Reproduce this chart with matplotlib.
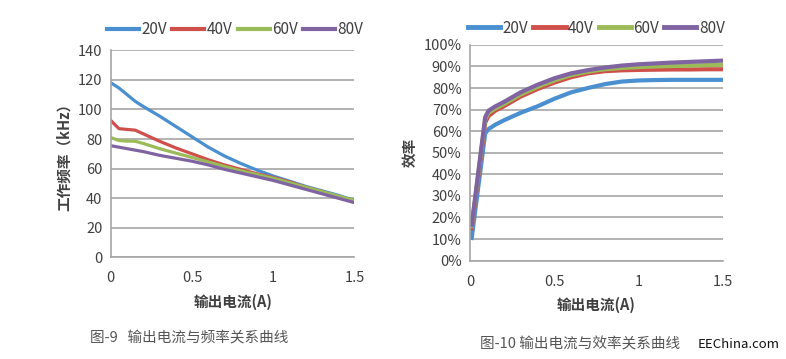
import matplotlib
matplotlib.use("Agg")
import matplotlib.pyplot as plt

plt.rcParams['font.family'] = ['Noto Sans CJK SC', 'DejaVu Sans']

# 输出电流与频率
cur_f = [0, 0.05, 0.1, 0.15, 0.2, 0.3, 0.4, 0.5, 0.6, 0.7, 0.8, 0.9, 1.0, 1.1, 1.2, 1.3, 1.4, 1.5]
f20 = [118, 114.5, 110, 105.5, 102, 95.5, 88.5, 81.5, 74.5, 68.5, 63.5, 59, 55, 51.5, 48, 45, 42, 38.5]
f40 = [92.5, 87, 86.5, 86, 83.5, 78.5, 74, 70, 66, 62.5, 59.5, 56.5, 54, 51, 47.5, 44.5, 41, 38]
f60 = [81, 79, 78.6, 78.5, 77, 73.5, 70.5, 67.5, 64.5, 61.5, 58.5, 56, 53.5, 50.5, 47.5, 44.5, 41.5, 38.5]
f80 = [75.5, 74.5, 73.5, 72.5, 71.5, 69, 67, 65, 62.5, 59.5, 57, 54.5, 52, 49, 46, 43, 40, 37]

# 输出电流与效率
cur_e = [0.01, 0.09, 0.11, 0.15, 0.2, 0.3, 0.4, 0.5, 0.6, 0.7, 0.8, 0.9, 1.0, 1.1, 1.2, 1.3, 1.4, 1.5]
e20 = [10.5, 59, 61, 63, 65, 68.5, 71.5, 75, 78, 80, 81.8, 83, 83.5, 83.7, 83.8, 83.8, 83.8, 83.8]
e40 = [15, 64, 67, 69.5, 71.5, 76, 79.5, 82.5, 85, 86.8, 87.8, 88.2, 88.4, 88.5, 88.6, 88.6, 88.7, 88.7]
e60 = [16, 65.5, 68.5, 70.5, 72.5, 77, 80.5, 83.5, 86, 87.6, 88.7, 89.3, 89.7, 90, 90.2, 90.4, 90.6, 90.8]
e80 = [16.5, 66.5, 69.5, 71.5, 73.5, 78, 81.5, 84.5, 86.8, 88.3, 89.5, 90.4, 91, 91.4, 91.8, 92.1, 92.4, 92.7]

labels = ['20V', '40V', '60V', '80V']
colors = ['#4a8fd0', '#cf4f4a', '#9bbb59', '#8064a2']
grid_c = '#a6a6a6'
txt_c = '#404040'

fig = plt.figure(figsize=(7.86, 3.59), dpi=100)

def style(ax):
    for s in ['top', 'right']:
        ax.spines[s].set_visible(False)
    ax.spines['left'].set_color(grid_c)
    ax.spines['bottom'].set_color(grid_c)
    ax.spines['left'].set_linewidth(1.2)
    ax.spines['bottom'].set_linewidth(1.2)
    ax.yaxis.grid(True, color=grid_c, linewidth=1.2)
    ax.set_axisbelow(True)
    ax.tick_params(length=0, labelsize=10.5, colors=txt_c, pad=6)
    ax.tick_params(axis='x', pad=10)

ax1 = fig.add_axes([0.141, 0.283, 0.310, 0.577])
for y, lab, c in zip([f20, f40, f60, f80], labels, colors):
    ax1.plot(cur_f, y, color=c, lw=2.3, label=lab)
ax1.set_xlim(0, 1.5)
ax1.set_ylim(0, 140)
ax1.set_xticks([0, 0.5, 1, 1.5])
ax1.set_xticklabels(['0', '0.5', '1', '1.5'])
ax1.set_yticks(range(0, 141, 20))
style(ax1)
ax1.set_xlabel('输出电流(A)', fontsize=10.5, color=txt_c, fontweight='bold', labelpad=6)
ax1.set_ylabel('工作频率（kHz）', fontsize=10.5, color=txt_c, fontweight='bold', labelpad=4)
leg1 = ax1.legend(loc='lower center', bbox_to_anchor=(0.51, 1.03), ncol=4, frameon=False,
                  fontsize=11, handlelength=2.1, handletextpad=0.15, columnspacing=0.35,
                  borderaxespad=0, labelcolor=txt_c)
for h in leg1.get_lines():
    h.set_linewidth(3)

ax2 = fig.add_axes([0.598, 0.274, 0.3215, 0.601])
for y, lab, c in zip([e20, e40, e60, e80], labels, colors):
    ax2.plot(cur_e, y, color=c, lw=3.0, label=lab)
ax2.set_xlim(0, 1.5)
ax2.set_ylim(0, 100)
ax2.set_xticks([0, 0.5, 1, 1.5])
ax2.set_xticklabels(['0', '0.5', '1', '1.5'])
ax2.set_yticks(range(0, 101, 10))
ax2.set_yticklabels([f'{v}%' for v in range(0, 101, 10)])
style(ax2)
ax2.set_xlabel('输出电流(A)', fontsize=10.5, color=txt_c, fontweight='bold', labelpad=6)
ax2.set_ylabel('效率', fontsize=10.5, color=txt_c, fontweight='bold', labelpad=4)
leg2 = ax2.legend(loc='lower center', bbox_to_anchor=(0.5, 1.01), ncol=4, frameon=False,
                  fontsize=11, handlelength=2.1, handletextpad=0.15, columnspacing=0.35,
                  borderaxespad=0, labelcolor=txt_c)
for h in leg2.get_lines():
    h.set_linewidth(3.5)

fig.text(90 / 786, 1 - 338 / 359, '图-9   输出电流与频率关系曲线', fontsize=10.5,
         color='#555555', va='center', ha='left')
fig.text(480 / 786, 1 - 344 / 359, '图-10 输出电流与效率关系曲线', fontsize=10.5,
         color='#555555', va='center', ha='left')
fig.text(780 / 786, 1 - 345 / 359, 'EEChina.com', fontsize=9.5, color='#111111',
         va='center', ha='right')

fig.savefig('out.png', dpi=100)
